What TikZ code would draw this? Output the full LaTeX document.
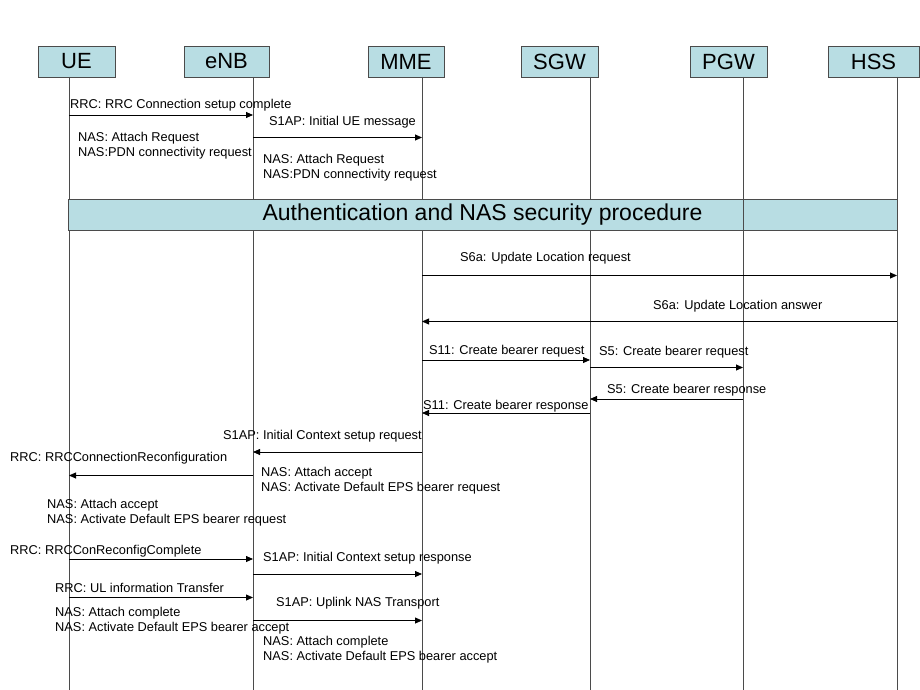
\documentclass[tikz,border=0pt]{standalone}
\usepackage{fontspec}
\setmainfont{Liberation Sans}
\usetikzlibrary{arrows.meta}
\definecolor{boxfill}{RGB}{184,221,227}
\definecolor{lineg}{RGB}{75,75,75}
\begin{document}
\begin{tikzpicture}[x=1pt,y=-1pt,
    entity/.style ={draw=lineg, fill=boxfill, minimum height=31pt, inner sep=0pt,
                    font=\fontsize{22}{24}\selectfont},
    lifeline/.style={draw=lineg, line width=0.9pt},
    msg/.style     ={-{Triangle[length=7pt,width=6pt]}, line width=0.8pt},
    lbl/.style     ={anchor=base west, inner sep=0pt, align=left,
                    font=\fontsize{12.8}{15.5}\selectfont}]
   \useasboundingbox (0,0) rectangle (920,690);

   % entities
   \node[entity, minimum width=77pt] (UE)  at (76.5,61.5)  {UE};
   \node[entity, minimum width=85pt] (ENB) at (226.5,61.5) {eNB};
   \node[entity, minimum width=76pt] (MME) at (406,61.5)   {MME};
   \node[entity, minimum width=77pt] (SGW) at (559.5,61.5) {SGW};
   \node[entity, minimum width=77pt] (PGW) at (728.5,61.5) {PGW};
   \node[entity, minimum width=91pt] (HSS) at (873.5,61.5) {HSS};

   % lifelines
   \foreach \n/\x in {ue/69, enb/253, mme/422, sgw/590, pgw/743, hss/897} {
     \coordinate (\n) at (\x,77);
     \draw[lifeline] (\n) -- (\n |- 0,690);
   }

   % authentication
   \node[entity, minimum width=829pt, font=\fontsize{23}{25}\selectfont] (auth)
        at (482.5,214.5) {Authentication and NAS security procedure};
   \draw[lifeline] (pgw |- auth.north) -- (pgw |- auth.south);

   % attach request
   \draw[msg] (ue |- 0,115) -- (enb |- 0,115);
   \node[lbl] (m1) at (70,109) {RRC: RRC Connection setup complete};
   \node[lbl] (n1) at (78,156.5) {NAS: Attach Request\\NAS:PDN connectivity request};
   \draw[msg] (enb |- 0,137.5) -- (mme |- 0,137.5);
   \node[lbl] (m2) at (269,125) {S1AP: Initial UE message};
   \node[lbl] (n2) at (263,178.5) {NAS: Attach Request\\NAS:PDN connectivity request};

   % update location
   \draw[msg] (mme |- 0,275.5) -- (hss |- 0,275.5);
   \node[lbl] (m3) at (460,261.5) {S6a: Update Location request};
   \draw[msg] (hss |- 0,321.5) -- (mme |- 0,321.5);
   \node[lbl] (m4) at (653,309) {S6a: Update Location answer};

   % create bearer
   \draw[msg] (mme |- 0,360) -- (sgw |- 0,360);
   \node[lbl] (m5) at (429,354) {S11: Create bearer request};
   \draw[msg] (sgw |- 0,367.5) -- (pgw |- 0,367.5);
   \node[lbl] (m6) at (599,355) {S5: Create bearer request};
   \draw[msg] (pgw |- 0,399) -- (sgw |- 0,399);
   \node[lbl] (m7) at (607,393) {S5: Create bearer response};
   \draw[msg] (sgw |- 0,413) -- (mme |- 0,413);
   \node[lbl] (m8) at (423,409) {S11: Create bearer response};

   % initial context setup
   \draw[msg] (mme |- 0,452) -- (enb |- 0,452);
   \node[lbl] (m9) at (223,439) {S1AP: Initial Context setup request};
   \node[lbl] (n3) at (261,491.5) {NAS: Attach accept\\NAS: Activate Default EPS bearer request};
   \draw[msg] (enb |- 0,475.5) -- (ue |- 0,475.5);
   \node[lbl] (m10) at (10,461) {RRC: RRCConnectionReconfiguration};
   \node[lbl] (n4) at (47,523.5) {NAS: Attach accept\\NAS: Activate Default EPS bearer request};
   \draw[msg] (ue |- 0,559) -- (enb |- 0,559);
   \node[lbl] (m11) at (10,554) {RRC: RRCConReconfigComplete};
   \draw[msg] (enb |- 0,574) -- (mme |- 0,574);
   \node[lbl] (m12) at (263,561) {S1AP: Initial Context setup response};

   % attach complete
   \draw[msg] (ue |- 0,597.5) -- (enb |- 0,597.5);
   \node[lbl] (m13) at (55,592) {RRC: UL information Transfer};
   \node[lbl] (n5) at (55,631.5) {NAS: Attach complete\\NAS: Activate Default EPS bearer accept};
   \draw[msg] (enb |- 0,620.5) -- (mme |- 0,620.5);
   \node[lbl] (m14) at (276,606) {S1AP: Uplink NAS Transport};
   \node[lbl] (n6) at (263,660.5) {NAS: Attach complete\\NAS: Activate Default EPS bearer accept};
\end{tikzpicture}
\end{document}
